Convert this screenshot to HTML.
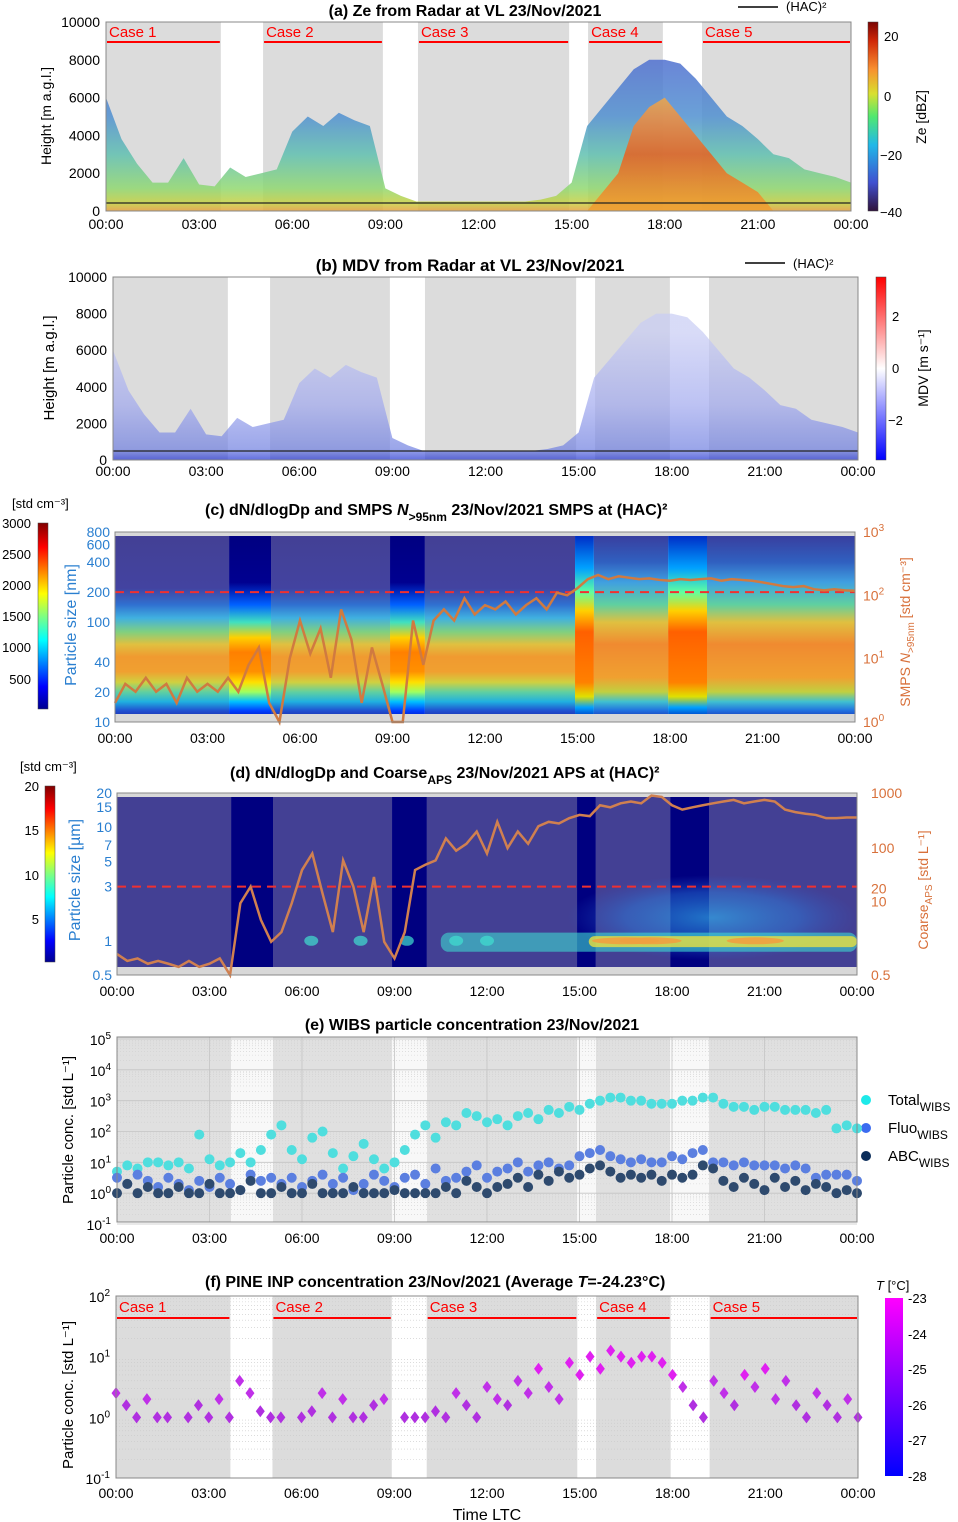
<!DOCTYPE html>
<html><head><meta charset="utf-8">
<style>
body{margin:0;background:#fff;}
svg{display:block;font-family:"Liberation Sans",Arial,sans-serif;}
</style></head>
<body>
<svg id="fig" xmlns="http://www.w3.org/2000/svg" width="958" height="1522" viewBox="0 0 958 1522">
<defs>
<linearGradient id="radarGrad" gradientUnits="userSpaceOnUse" x1="0" y1="211" x2="0" y2="22">
<stop offset="0" stop-color="#e8a040"/><stop offset="0.04" stop-color="#c8d040"/><stop offset="0.12" stop-color="#90d870"/><stop offset="0.3" stop-color="#60c0b0"/><stop offset="0.5" stop-color="#5090d0"/><stop offset="0.8" stop-color="#5070d0"/>
</linearGradient>
<linearGradient id="coreGrad" gradientUnits="userSpaceOnUse" x1="0" y1="211" x2="0" y2="22">
<stop offset="0" stop-color="#f0a030"/><stop offset="0.3" stop-color="#e86020"/><stop offset="0.5" stop-color="#f09040"/><stop offset="0.7" stop-color="#f0c050"/>
</linearGradient>
<linearGradient id="mdvGrad" gradientUnits="userSpaceOnUse" x1="0" y1="460" x2="0" y2="277">
<stop offset="0" stop-color="#2030d0"/><stop offset="0.06" stop-color="#7080e0"/><stop offset="0.3" stop-color="#a0a8ee"/><stop offset="0.7" stop-color="#c8ccf4"/>
</linearGradient>
<radialGradient id="cloudGrad" cx="0.5" cy="0.5" r="0.5">
<stop offset="0" stop-color="#30a8e8" stop-opacity="0.7"/><stop offset="0.6" stop-color="#2a80e0" stop-opacity="0.45"/><stop offset="1" stop-color="#2a60d0" stop-opacity="0"/>
</radialGradient>
<linearGradient id="cbA" x1="0" y1="1" x2="0" y2="0">
<stop offset="0" stop-color="#30123b"/><stop offset="0.15" stop-color="#4050d0"/><stop offset="0.35" stop-color="#20b8e8"/><stop offset="0.5" stop-color="#50e870"/><stop offset="0.62" stop-color="#d8e030"/><stop offset="0.75" stop-color="#f89030"/><stop offset="0.9" stop-color="#d02808"/><stop offset="1" stop-color="#7a0403"/>
</linearGradient>
<linearGradient id="cbB" x1="0" y1="1" x2="0" y2="0">
<stop offset="0" stop-color="#0000ff"/><stop offset="0.5" stop-color="#ffffff"/><stop offset="1" stop-color="#ff0000"/>
</linearGradient>
<linearGradient id="cbJet" x1="0" y1="1" x2="0" y2="0">
<stop offset="0" stop-color="#00008f"/><stop offset="0.12" stop-color="#0000ff"/><stop offset="0.37" stop-color="#00ffff"/><stop offset="0.5" stop-color="#80ff80"/><stop offset="0.62" stop-color="#ffff00"/><stop offset="0.87" stop-color="#ff0000"/><stop offset="1" stop-color="#800000"/>
</linearGradient>
<linearGradient id="cbF" x1="0" y1="1" x2="0" y2="0">
<stop offset="0" stop-color="#0000ff"/><stop offset="1" stop-color="#ff00ff"/>
</linearGradient>
</defs>

<text x="465" y="16" text-anchor="middle" font-size="16" font-weight="bold">(a) Ze from Radar at VL 23/Nov/2021</text>
<line x1="738" y1="7" x2="778" y2="7" stroke="#000" stroke-width="1.5"/>
<text x="786" y="11" font-size="13">(HAC)²</text>
<text x="470" y="271" text-anchor="middle" font-size="17" font-weight="bold">(b)  MDV from Radar at VL 23/Nov/2021</text>
<line x1="745" y1="263" x2="785" y2="263" stroke="#000" stroke-width="1.5"/>
<text x="793" y="268" font-size="13">(HAC)²</text>
<text x="205" y="515" font-size="16" font-weight="bold">(c)  dN/dlogDp and SMPS  <tspan font-style="italic">N</tspan><tspan font-size="12" dy="6">&gt;95nm</tspan><tspan dy="-6">   23/Nov/2021   SMPS at (HAC)²</tspan></text>
<text x="230" y="778" font-size="16" font-weight="bold">(d)  dN/dlogDp and Coarse<tspan font-size="12" dy="6">APS</tspan><tspan dy="-6">    23/Nov/2021   APS at (HAC)²</tspan></text>
<text x="472" y="1030" text-anchor="middle" font-size="16" font-weight="bold">(e) WIBS particle concentration 23/Nov/2021</text>
<text x="205" y="1287" font-size="16" font-weight="bold">(f)  PINE INP concentration 23/Nov/2021 (Average <tspan font-style="italic">T</tspan>=-24.23°C)</text>
<text x="487" y="1520" text-anchor="middle" font-size="16">Time LTC</text>

<text transform="translate(51,116) rotate(-90)" text-anchor="middle" font-size="14">Height  [m a.g.l.]</text>
<text transform="translate(54,368) rotate(-90)" text-anchor="middle" font-size="15">Height   [m a.g.l.]</text>
<text transform="translate(76,625) rotate(-90)" text-anchor="middle" font-size="16" fill="#2a7fd0">Particle size [nm]</text>
<text transform="translate(910,632) rotate(-90)" text-anchor="middle" font-size="14" fill="#d8703a">SMPS <tspan font-style="italic">N</tspan><tspan font-size="10" dy="4">&gt;95nm</tspan><tspan dy="-4"> [std cm⁻³]</tspan></text>
<text transform="translate(80,880) rotate(-90)" text-anchor="middle" font-size="16" fill="#2a7fd0">Particle size [µm]</text>
<text transform="translate(928,890) rotate(-90)" text-anchor="middle" font-size="14" fill="#d8703a">Coarse<tspan font-size="10" dy="4">APS</tspan><tspan dy="-4">  [std L⁻¹]</tspan></text>
<text transform="translate(73,1130) rotate(-90)" text-anchor="middle" font-size="15">Particle conc.  [std L⁻¹]</text>
<text transform="translate(73,1395) rotate(-90)" text-anchor="middle" font-size="15">Particle conc.  [std L⁻¹]</text>

<rect x="868" y="22" width="10" height="189" fill="url(#cbA)" stroke="#444" stroke-width="0.5"/>
<text x="884" y="41" font-size="13">20</text>
<text x="884" y="101" font-size="13">0</text>
<text x="880" y="160" font-size="13">−20</text>
<text x="880" y="217" font-size="13">−40</text>
<text transform="translate(926,117) rotate(-90)" text-anchor="middle" font-size="14">Ze [dBZ]</text>

<rect x="876" y="277" width="10" height="183" fill="url(#cbB)" stroke="#444" stroke-width="0.5"/>
<text x="892" y="321" font-size="13">2</text>
<text x="892" y="373" font-size="13">0</text>
<text x="888" y="425" font-size="13">−2</text>
<text transform="translate(928,368) rotate(-90)" text-anchor="middle" font-size="14">MDV [m s⁻¹]</text>

<rect x="38" y="523" width="10" height="186" fill="url(#cbJet)" stroke="#444" stroke-width="0.5"/>
<text x="12" y="508" font-size="13">[std cm⁻³]</text>
<g font-size="13" text-anchor="end">
<text x="31" y="528">3000</text><text x="31" y="559">2500</text><text x="31" y="590">2000</text><text x="31" y="621">1500</text><text x="31" y="652">1000</text><text x="31" y="684">500</text></g>

<rect x="45" y="786" width="10" height="176" fill="url(#cbJet)" stroke="#444" stroke-width="0.5"/>
<text x="20" y="771" font-size="13">[std cm⁻³]</text>
<g font-size="13" text-anchor="end">
<text x="39" y="791">20</text><text x="39" y="835">15</text><text x="39" y="880">10</text><text x="39" y="924">5</text></g>

<rect x="885" y="1298" width="18" height="178" fill="url(#cbF)"/>
<text x="876" y="1290" font-size="13"><tspan font-style="italic">T</tspan> [°C]</text>
<g font-size="13">
<text x="908" y="1303">-23</text><text x="908" y="1339">-24</text><text x="908" y="1374">-25</text><text x="908" y="1410">-26</text><text x="908" y="1445">-27</text><text x="908" y="1481">-28</text></g>

<circle cx="866" cy="1100" r="5" fill="#1de9e9"/>
<text x="888" y="1105" font-size="15">Total<tspan font-size="12" dy="6">WIBS</tspan></text>
<circle cx="866" cy="1128" r="5" fill="#3a6bf0"/>
<text x="888" y="1133" font-size="15">Fluo<tspan font-size="12" dy="6">WIBS</tspan></text>
<circle cx="866" cy="1156" r="5" fill="#0b2d5a"/>
<text x="888" y="1161" font-size="15">ABC<tspan font-size="12" dy="6">WIBS</tspan></text>

<g id="plots"></g>
</svg>

<script>
const caseSpans = [[0,3.7],[5.06,8.92],[10.05,14.92],[15.53,17.94],[19.2,24]];
const caseNames = ["Case 1","Case 2","Case 3","Case 4","Case 5"];
const gapSpans = [[3.7,5.06],[8.92,10.05],[14.92,15.53],[17.94,19.2]];
const timeTicks = [0,3,6,9,12,15,18,21,24];
const timeLabels = ["00:00","03:00","06:00","09:00","12:00","15:00","18:00","21:00","00:00"];
const radarTops = [6000,3800,2500,1500,1500,2800,1400,1300,2300,1800,2000,2200,4200,5000,4500,5200,4800,4500,1200,800,500,500,500,500,500,500,500,500,600,800,1500,4500,5500,6500,7500,8000,8000,7800,7000,6000,5000,4500,3800,3000,2800,2200,2000,1800,1500];
const coreTops = [0,0,0,0,0,0,0,0,0,0,0,0,0,0,0,0,0,0,0,0,0,0,0,0,0,0,0,0,0,0,0,0,1000,2000,4500,5500,6000,5000,4000,3000,2000,1500,1000,0,0,0,0,0,0];
const smpsN = [2,4,3,5,3,4,2,5,3,4,3,5,3,8,15,2,1,10,40,12,30,5,60,20,2,15,4,1,1,40,8,40,60,40,90,50,70,60,80,50,70,90,60,110,100,130,180,210,180,200,190,180,185,175,170,180,175,180,185,170,180,175,170,160,150,140,135,140,125,120,125,120,118];
const apsCoarse = [1.2,0.9,1,0.8,0.9,0.8,0.7,0.9,0.7,0.8,1,0.5,10,20,5,2,3,10,40,80,15,3,60,20,3,30,2,1,3,40,50,60,150,90,120,200,80,300,100,200,120,250,300,280,350,400,380,600,550,650,700,650,900,850,600,500,550,600,650,700,750,650,700,750,700,500,450,420,400,350,350,360,360];
const totalLog = [0.7,0.9,0.8,1.0,1.0,0.9,1.0,0.8,1.9,1.1,0.9,1.0,1.3,1.0,1.4,1.9,2.2,1.4,1.1,1.8,2.0,1.3,0.8,1.2,1.6,1.1,0.8,1.0,1.4,1.9,2.2,1.8,2.3,2.2,2.6,2.5,2.3,2.4,2.2,2.5,2.6,2.4,2.7,2.6,2.8,2.7,2.9,3.0,3.1,3.1,3.0,3.0,2.9,2.9,2.9,3.0,3.0,3.1,3.1,2.9,2.8,2.8,2.7,2.8,2.8,2.7,2.7,2.7,2.6,2.7,2.1,2.2,2.1];
const fluoLog = [0.5,0.3,0.6,0.4,0.2,0.5,0.3,0.1,0.4,0.2,0.5,0.3,0.1,0.6,0.4,0.5,0.3,0.5,0.2,0.4,0.6,0.3,0.5,0.1,0.3,0.6,0.4,0.2,0.5,0.6,0.3,0.8,0.4,0.5,0.7,0.9,0.5,0.7,0.8,1.0,0.7,0.9,1.0,0.8,0.9,1.2,1.3,1.4,1.2,1.1,1.0,1.1,1.0,1.0,1.2,1.1,1.3,1.4,1.0,1.0,0.9,1.0,0.9,0.9,0.9,0.8,0.9,0.8,0.5,0.6,0.6,0.6,0.4];
const abcLog = [0,0.3,0,0.2,0,0,0.2,0,0,0.3,0,0,0.1,0.4,0,0,0.2,0,0,0.3,0,0,0,0.2,0,0,0,0.1,0,0,0,0,0.2,0,0.4,0.2,0,0.2,0.3,0.5,0.2,0.6,0.4,0.7,0.5,0.6,0.8,0.9,0.7,0.5,0.6,0.5,0.6,0.4,0.6,0.5,0.6,0.9,0.8,0.4,0.2,0.5,0.3,0.1,0.5,0.2,0.4,0.1,0.3,0.2,0,0.1,0];
const inpLog = [0.4,0.2,0,0.3,0,0,null,0,0.2,0,0.3,0,0.6,0.4,0.1,0,0,null,0,0.1,0.4,0,0.3,0,0,0.2,0.3,null,0,0,0,0.1,0,0.4,0.2,0,0.5,0.3,0.2,0.6,0.4,0.8,0.5,0.3,0.9,0.7,1.0,0.8,1.1,1.0,0.9,1.0,1.0,0.9,0.7,0.5,0.2,0,0.6,0.4,0.2,0.7,0.5,0.8,0.3,0.6,0.2,0,0.4,0.2,0,0.3,0];

const NS="http://www.w3.org/2000/svg";
const root=document.getElementById('plots');
function mk(tag,attrs,parent){const e=document.createElementNS(NS,tag);for(const k in attrs)e.setAttribute(k,attrs[k]);(parent||root).appendChild(e);return e;}
function tOf(i,n){return 24*i/(n-1);}
const L10=Math.log10;

const PA={x0:106,x1:851,y0:22,y1:211};
const PB={x0:113,x1:858,y0:277,y1:460};
const PC={x0:115,x1:855,yT:532,yB:722,hT:536,hB:714};
const PD={x0:117,x1:857,yT:793,yB:975,hT:797,hB:967};
const PE={x0:117,x1:857,yT:1039,yB:1224};
const PF={x0:116,x1:858,yT:1296,yB:1478};
function xs(p,h){return p.x0+(p.x1-p.x0)*h/24;}
function logY(yT,yB,vTop,vBot,v){return yT+(yB-yT)*(L10(vTop)-L10(v))/(L10(vTop)-L10(vBot));}

function timeAxis(p,yLab,name){
  timeTicks.forEach((h,i)=>{
    const t=mk('text',{x:xs(p,h),y:yLab,'text-anchor':'middle','font-size':14});
    t.textContent=timeLabels[i];
    
    
  });
}
function spans(p,top,bot,caseFill,gapFill,name){
  caseSpans.forEach((s,i)=>{
    const r=mk('rect',{x:xs(p,s[0]),y:top,width:xs(p,s[1])-xs(p,s[0]),height:bot-top,fill:caseFill});
    
    
  });
  if(gapFill) gapSpans.forEach((s,i)=>{
    const r=mk('rect',{x:xs(p,s[0]),y:top,width:xs(p,s[1])-xs(p,s[0]),height:bot-top,fill:gapFill});
    
    
  });
}
function caseLabels(p,yText,yLine,name){
  caseSpans.forEach((s,i)=>{
    const l=mk('line',{x1:xs(p,s[0])+1,x2:xs(p,s[1])-1,y1:yLine,y2:yLine,stroke:'#ff0000','stroke-width':2});
    
    
    const t=mk('text',{x:xs(p,s[0])+3,y:yText,'font-size':15,fill:'#ff0000'});
    t.textContent=caseNames[i];
    
    
  });
}
function frame(x0,y0,x1,y1,name){
  const r=mk('rect',{x:x0,y:y0,width:x1-x0,height:y1-y0,fill:'none',stroke:'#888','stroke-width':1});
  
  
}
function heightAxis(p,name){
  for(let v=0;v<=10000;v+=2000){
    const y=p.y1-(p.y1-p.y0)*v/10000;
    const t=mk('text',{x:p.x0-6,y:y+5,'text-anchor':'end','font-size':14});
    t.textContent=v;
    
    
  }
}
function envelope(p,arr,fill,opacity,name,base){
  const hy=v=>p.y1-(p.y1-p.y0)*v/10000;
  let pts=[];
  arr.forEach((v,i)=>{pts.push(xs(p,tOf(i,arr.length))+','+hy(Math.max(v,base)));});
  pts.push(xs(p,24)+','+p.y1);pts.push(xs(p,0)+','+p.y1);
  const e=mk('polygon',{points:pts.join(' '),fill:fill,opacity:opacity});
  
  
}

// panel a
spans(PA,PA.y0,PA.y1,'#dcdcdc',null,'a');
envelope(PA,radarTops,'url(#radarGrad)',0.85,'ze-cloud',0);
envelope(PA,coreTops,'url(#coreGrad)',0.85,'ze-core',0);
(function(){const l=mk('line',{x1:PA.x0,x2:PA.x1,y1:203,y2:203,stroke:'#222','stroke-width':1.2});

})();
caseLabels(PA,37,42,'a');
frame(PA.x0,PA.y0,PA.x1,PA.y1,'plot-frame-a');
heightAxis(PA,'a');
timeAxis(PA,229,'a');

// panel b
spans(PB,PB.y0,PB.y1,'#dcdcdc',null,'b');
envelope(PB,radarTops,'url(#mdvGrad)',0.7,'mdv-cloud',0);
(function(){const l=mk('line',{x1:PB.x0,x2:PB.x1,y1:451,y2:451,stroke:'#222','stroke-width':1.2});

})();
frame(PB.x0,PB.y0,PB.x1,PB.y1,'plot-frame-b');
heightAxis(PB,'b');
timeAxis(PB,476,'b');

// panel c
function gradFor(id,stops,top,bot,vTop,vBot){
  const g=mk('linearGradient',{id:id,gradientUnits:'userSpaceOnUse',x1:0,x2:0,y1:bot,y2:top},document.querySelector('defs'));
  stops.forEach(s=>{const y=logY(top,bot,vTop,vBot,s[0]);mk('stop',{offset:(bot-y)/(bot-top),'stop-color':s[1]},g);});
}
const cT=PC.yT,cB=PC.yB;
gradFor('c1',[[10,'#1a1a9a'],[13,'#2050d0'],[16,'#20b0e0'],[20,'#60d0a0'],[25,'#d0d040'],[32,'#f0a030'],[45,'#f09a30'],[60,'#e0c040'],[80,'#80d080'],[110,'#40b0e0'],[150,'#3070d0'],[220,'#4343a0'],[800,'#434094']],cT,cB,800,10);
gradFor('c2',[[10,'#0000a0'],[13,'#0040ff'],[16,'#00c0ff'],[20,'#a0ff60'],[25,'#ffe000'],[32,'#ff9000'],[50,'#ff8000'],[70,'#ffd000'],[100,'#40e0c0'],[150,'#0060ff'],[250,'#000090'],[800,'#000080']],cT,cB,800,10);
gradFor('c3',[[10,'#1a1a9a'],[13,'#2070e0'],[16,'#40c0d0'],[20,'#c0d040'],[28,'#f0a030'],[60,'#f08a30'],[100,'#e0c040'],[150,'#60d0a0'],[250,'#40a0e0'],[400,'#3060c0'],[800,'#3a3a9a']],cT,cB,800,10);
gradFor('c4',[[10,'#0000a0'],[14,'#00a0ff'],[18,'#e0e000'],[25,'#ff8000'],[80,'#ff6000'],[130,'#ffd000'],[200,'#60ffa0'],[350,'#00a0ff'],[800,'#0020c0']],cT,cB,800,10);
(function(){const r=mk('rect',{x:PC.x0,y:PC.yT,width:PC.x1-PC.x0,height:PC.yB-PC.yT,fill:'#d8d8d8'});

})();
caseSpans.forEach((s,i)=>{const r=mk('rect',{x:xs(PC,s[0]),y:PC.hT,width:xs(PC,s[1])-xs(PC,s[0]),height:PC.hB-PC.hT,fill:s[0]>=15?'url(#c3)':'url(#c1)'});

});
gapSpans.forEach((s,i)=>{const r=mk('rect',{x:xs(PC,s[0]),y:PC.hT,width:xs(PC,s[1])-xs(PC,s[0]),height:PC.hB-PC.hT,fill:s[0]>=14.9?'url(#c4)':'url(#c2)'});

});
(function(){
  const y=logY(cT,cB,800,10,200);
  const l=mk('line',{x1:PC.x0,x2:PC.x1,y1:y,y2:y,stroke:'#f03030','stroke-width':2,'stroke-dasharray':'9,6'});
  
  
  const pts=smpsN.map((v,i)=>xs(PC,tOf(i,smpsN.length))+','+Math.min(cB,logY(cT,cB,1000,1,Math.max(v,0.5)))).join(' ');
  const pl=mk('polyline',{points:pts,fill:'none',stroke:'#d07a40','stroke-width':2.5});
  
  
  [[800,'800'],[600,'600'],[400,'400'],[200,'200'],[100,'100'],[40,'40'],[20,'20'],[10,'10']].forEach(a=>{
    const t=mk('text',{x:PC.x0-5,y:logY(cT,cB,800,10,a[0])+5,'text-anchor':'end','font-size':14,fill:'#2a7fd0'});
    t.textContent=a[1];
    
    
  });
  [0,1,2,3].forEach(e=>{
    const t=mk('text',{x:PC.x1+8,y:logY(cT,cB,1000,1,Math.pow(10,e))+5,'font-size':14,fill:'#d8703a'});
    t.textContent='10';
    const sp=mk('tspan',{'font-size':10,dy:-6},t);sp.textContent=e;
    
    
  });
  frame(PC.x0,PC.yT,PC.x1,PC.yB,'plot-frame-c');
})();
timeAxis(PC,743,'c');

// panel d
(function(){
  const bg=mk('rect',{x:PD.x0,y:PD.yT,width:PD.x1-PD.x0,height:PD.yB-PD.yT,fill:'#d8d8d8'});
  
  
  caseSpans.forEach((s,i)=>{const r=mk('rect',{x:xs(PD,s[0]),y:PD.hT,width:xs(PD,s[1])-xs(PD,s[0]),height:PD.hB-PD.hT,fill:'#434094'});
  
  });
  gapSpans.forEach((s,i)=>{const r=mk('rect',{x:xs(PD,s[0]),y:PD.hT,width:xs(PD,s[1])-xs(PD,s[0]),height:PD.hB-PD.hT,fill:'#000080'});
  
  });
  const yd=v=>logY(PD.yT,PD.yB,20,0.5,v);
  const cl=mk('ellipse',{cx:xs(PD,19.3),cy:yd(1.6),rx:(xs(PD,24)-xs(PD,14.6))/2,ry:(yd(0.8)-yd(4.5))/2,fill:'url(#cloudGrad)'});
  
  
  const band=mk('rect',{x:xs(PD,10.5),y:yd(1.18),width:xs(PD,24)-xs(PD,10.5),height:yd(0.8)-yd(1.18),fill:'#40d8d0',opacity:0.6,rx:8});
  
  
  const band2=mk('rect',{x:xs(PD,15.3),y:yd(1.1),width:xs(PD,24)-xs(PD,15.3),height:yd(0.88)-yd(1.1),fill:'#e8e040',opacity:0.8,rx:6});
  
  
  [[16.5,1.3],[17.3,1.2],[20.7,1.1]].forEach((b,i)=>{const e=mk('ellipse',{cx:xs(PD,b[0]),cy:yd(1),rx:26*b[1],ry:3.5,fill:'#f0a040',opacity:0.9});
  
  });
  [6.3,7.9,9.4,11.0,12.0].forEach((h,i)=>{const e=mk('ellipse',{cx:xs(PD,h),cy:yd(1),rx:7,ry:5,fill:'#40e0d0',opacity:0.7});
  
  });
  const y3=yd(3);
  const l=mk('line',{x1:PD.x0,x2:PD.x1,y1:y3,y2:y3,stroke:'#f03030','stroke-width':2,'stroke-dasharray':'9,6'});
  
  
  const pts=apsCoarse.map((v,i)=>xs(PD,tOf(i,apsCoarse.length))+','+logY(PD.yT,PD.yB,1000,0.5,v)).join(' ');
  const pl=mk('polyline',{points:pts,fill:'none',stroke:'#d08050','stroke-width':2.5});
  
  
  [[20,'20'],[15,'15'],[10,'10'],[7,'7'],[5,'5'],[3,'3'],[1,'1'],[0.5,'0.5']].forEach(a=>{
    const t=mk('text',{x:PD.x0-5,y:yd(a[0])+5,'text-anchor':'end','font-size':14,fill:'#2a7fd0'});
    t.textContent=a[1];
    
    
  });
  [[1000,'1000',0],[100,'100',0],[20,'20',2],[10,'10',-2],[0.5,'0.5',0]].forEach(a=>{
    const t=mk('text',{x:PD.x1+14,y:logY(PD.yT,PD.yB,1000,0.5,a[0])+5+a[2],'font-size':14,fill:'#d8703a'});
    t.textContent=a[1];
    
    
  });
  frame(PD.x0,PD.yT,PD.x1,PD.yB,'plot-frame-d');
})();
timeAxis(PD,996,'d');

// panel e
(function(){
  spans({x0:PE.x0,x1:PE.x1},PE.yT-2,PE.yB-2,'#e0e0e0','#f8f8f8','e');
  const ye=v=>PE.yT+(PE.yB-PE.yT)*(5-v)/6;
  for(let d=-1;d<5;d++){for(let m=2;m<=9;m++){const y=ye(d+L10(m));
    const g=mk('line',{x1:PE.x0,x2:PE.x1,y1:y,y2:y,stroke:'#cfcfcf','stroke-width':0.6,'stroke-dasharray':'1,2'});
    
    }}
  for(let d=-1;d<=5;d++){const y=ye(d);
    const g=mk('line',{x1:PE.x0,x2:PE.x1,y1:y,y2:y,stroke:'#c4c4c4','stroke-width':0.8});
    
    
    const t=mk('text',{x:PE.x0-6,y:y+6,'text-anchor':'end','font-size':14});
    t.textContent='10';
    const sp=mk('tspan',{'font-size':10,dy:-6},t);sp.textContent=d;
    
    }
  for(let h=0;h<=24;h+=3){const x=xs(PE,h);
    const g=mk('line',{x1:x,x2:x,y1:PE.yT-2,y2:PE.yB-2,stroke:'#c4c4c4','stroke-width':0.8});
    
    }
  function series(arr,col,name){arr.forEach((v,i)=>{
    const c=mk('circle',{cx:xs(PE,tOf(i,arr.length)),cy:ye(v),r:5,fill:col});
    
    });}
  series(totalLog,'#4fdede','total-wibs');
  series(fluoLog,'#5b7fe0','fluo-wibs');
  series(abcLog,'#2e4a6e','abc-wibs');
  frame(PE.x0,PE.yT-2,PE.x1,PE.yB-2,'plot-frame-e');
})();
timeAxis(PE,1243,'e');

// panel f
(function(){
  spans({x0:PF.x0,x1:PF.x1},PF.yT,PF.yB,'#dcdcdc',null,'f');
  const yf=v=>PF.yT+(PF.yB-PF.yT)*(2-v)/3;
  for(let d=-1;d<2;d++){for(let m=2;m<=9;m++){const y=yf(d+L10(m));
    const g=mk('line',{x1:PF.x0,x2:PF.x1,y1:y,y2:y,stroke:'#c8c8c8','stroke-width':0.6,'stroke-dasharray':'1,2'});
    
    }}
  for(let d=-1;d<=2;d++){const y=yf(d);
    const t=mk('text',{x:PF.x0-6,y:y+6,'text-anchor':'end','font-size':14});
    t.textContent='10';
    const sp=mk('tspan',{'font-size':10,dy:-6},t);sp.textContent=d;
    
    }
  caseLabels(PF,1312,1318,'f');
  inpLog.forEach((v,i)=>{if(v===null)return;
    const x=xs(PF,tOf(i,inpLog.length)),y=yf(v);
    const col=v>0.6?'#e020f0':(v>0.25?'#c030e8':'#b030e0');
    const d=mk('polygon',{points:`${x},${y-6} ${x+4.5},${y} ${x},${y+6} ${x-4.5},${y}`,fill:col});
    
    });
  frame(PF.x0,PF.yT,PF.x1,PF.yB,'plot-frame-f');
})();
timeAxis(PF,1498,'f');
</script>
</body></html>
